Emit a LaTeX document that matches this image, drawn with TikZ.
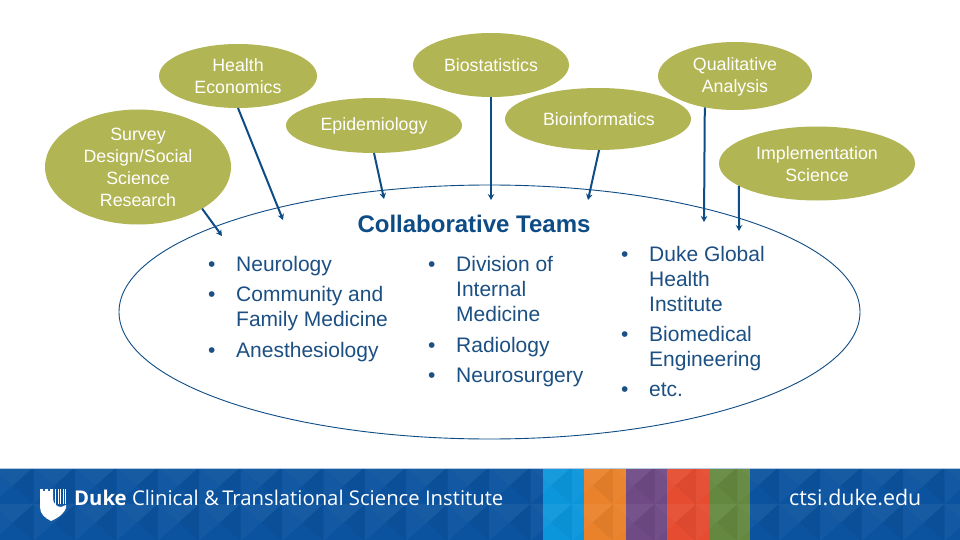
\documentclass[tikz,border=0pt]{standalone}
\usepackage{fontspec}
\setmainfont{Liberation Sans}
\newfontfamily\bannerfont{Open Sans}
\usetikzlibrary{shapes.geometric,arrows.meta}
\definecolor{olive}{HTML}{B1B553}
\definecolor{navy}{HTML}{0E4C85}
\definecolor{bodytext}{HTML}{1C4F82}
\definecolor{bannerblue}{HTML}{0B539F}
\tikzset{
  blob/.style={ellipse,fill=olive,inner sep=0pt,outer sep=0pt},
  blobtext/.style={text=white,inner sep=0pt,align=center,font=\fontsize{17.8}{22}\selectfont},
  link/.style={navy,line width=2pt,-{Stealth[length=6pt,width=6.5pt]}},
  listing/.style={anchor=north west,align=left,inner sep=0pt,text=bodytext,
    font=\fontsize{21}{25}\selectfont},
}
\newcommand{\itm}[1]{\makebox[28pt][l]{•}#1}
\newcommand{\cont}[1]{\hspace*{28pt}#1}
\begin{document}
\begin{tikzpicture}[x=1pt,y=-1pt]
\useasboundingbox (0,0) rectangle (960,540);
\fill[white] (0,0) rectangle (960,540);
% big ellipse
\node[ellipse,draw=navy,line width=0.9pt,minimum width=741pt,minimum height=254pt,inner sep=0pt] (team) at (489.5,312) {};
% banner
\fill[bannerblue] (0,468) rectangle (960,540);
\fill[white!70!bannerblue] (0,468) rectangle (960,469);
\foreach \c [count=\i from 0] in {0B96DC,E9822B,6F4A85,E54C30,64883F}{
  \definecolor{st}{HTML}{\c}
  \fill[st] ({543+41.4*\i},469) rectangle ({543+41.4*(\i+1)},540);
}
\begin{scope}
\clip (0,469) rectangle (960,540);
\foreach \k in {0,...,23}{
  \foreach \r in {0,1}{
    \pgfmathsetmacro{\xa}{-7.8+41.4*\k}
    \pgfmathsetmacro{\ya}{467+37*\r}
    \fill[white,opacity=0.03] (\xa,\ya) -- (\xa+20.7,\ya+18.5) -- (\xa,\ya+37) -- cycle;
    \fill[white,opacity=0.05] (\xa,\ya) -- (\xa+41.4,\ya) -- (\xa+20.7,\ya+18.5) -- cycle;
    \fill[black,opacity=0.04] (\xa+41.4,\ya) -- (\xa+20.7,\ya+18.5) -- (\xa+41.4,\ya+37) -- cycle;
  }
}
\end{scope}
% logo
\fill[white] (40,489) -- (43,489) -- (43,491) -- (45,491) -- (45,489) -- (48,489) -- (48,491) -- (50,491) -- (50,489) -- (53,489) -- (53,498) .. controls (53,504) and (57,507) .. (61,507) -- (66,505) -- (66,508) .. controls (64,513) and (60,517) .. (51,521) .. controls (45,518) and (40,514) .. (40,507) -- cycle;
\foreach \x in {55.5,58,60.5,63,65.5}{\draw[white,line width=1pt] (\x,489) -- (\x,{504.5-(\x-55.5)*0.1});}
\node[anchor=base west,inner sep=0pt,text=white,font=\bannerfont\fontsize{20.3}{24}\selectfont] (brand) at (74,505) {\textbf{Duke} Clinical \&\,Translational Science Institute};
\node[anchor=base west,inner sep=0pt,text=white,font=\bannerfont\fontsize{21.4}{24}\selectfont] (site) at (789,505) {ctsi.duke.edu};
% blobs
\node[blob,minimum width=158pt,minimum height=64pt] (he) at (238,76) {};
\node[blob,minimum width=156pt,minimum height=64pt] (bs) at (491,65) {};
\node[blob,minimum width=154pt,minimum height=68pt] (qa) at (735,76) {};
\node[blob,minimum width=176pt,minimum height=55pt] (ep) at (374,125.5) {};
\node[blob,minimum width=186pt,minimum height=62pt] (bi) at (598,119) {};
\node[blob,minimum width=196pt,minimum height=74pt] (im) at (817,163.5) {};
\node[blob,minimum width=186pt,minimum height=115pt] (su) at (138,167) {};
\node[blobtext] (helabel) at (238,76.5) {Health\\Economics};
\node[blobtext] (bslabel) at (491,65.5) {Biostatistics};
\node[blobtext] (qalabel) at (735,76.5) {Qualitative\\Analysis};
\node[blobtext] (eplabel) at (374,125.5) {Epidemiology};
\node[blobtext] (bilabel) at (599,119.5) {Bioinformatics};
\node[blobtext] (imlabel) at (817,164) {Implementation\\Science};
\node[blobtext] (sulabel) at (138,167.5) {Survey\\Design/Social\\Science\\Research};
% free ends
\coordinate (suend) at (222,236);
\coordinate (heend) at (283,220);
\coordinate (epend) at (384,199);
\coordinate (bsend) at (491,200);
\coordinate (biend) at (588,200);
\coordinate (qaend) at (704,222);
\coordinate (imend) at (739,231);
\draw[link] (su.-33) -- (suend);
\draw[link] (he.-90) -- (heend);
\draw[link] (ep.-90) -- (epend);
\draw[link] (bs.-90) -- (bsend);
\draw[link] (bi.-88) -- (biend);
\draw[link] (qa.226) -- (qaend);
\draw[link] (im.196) -- (imend);
% title
\node[inner sep=0pt,text=navy,font=\bfseries\fontsize{24}{26}\selectfont] (title) at (474,224) {Collaborative Teams};
% lists
\node[listing] (l1) at (208,256) {\itm{Neurology}\\[5pt]\itm{Community and}\\\cont{Family Medicine}\\[6pt]\itm{Anesthesiology}};
\node[listing] (l2) at (428,256) {\itm{Division of}\\\cont{Internal}\\\cont{Medicine}\\[6pt]\itm{Radiology}\\[5pt]\itm{Neurosurgery}};
\node[listing] (l3) at (621,246) {\itm{Duke Global}\\\cont{Health}\\\cont{Institute}\\[5pt]\itm{Biomedical}\\\cont{Engineering}\\[5pt]\itm{etc.}};
\end{tikzpicture}
\end{document}
